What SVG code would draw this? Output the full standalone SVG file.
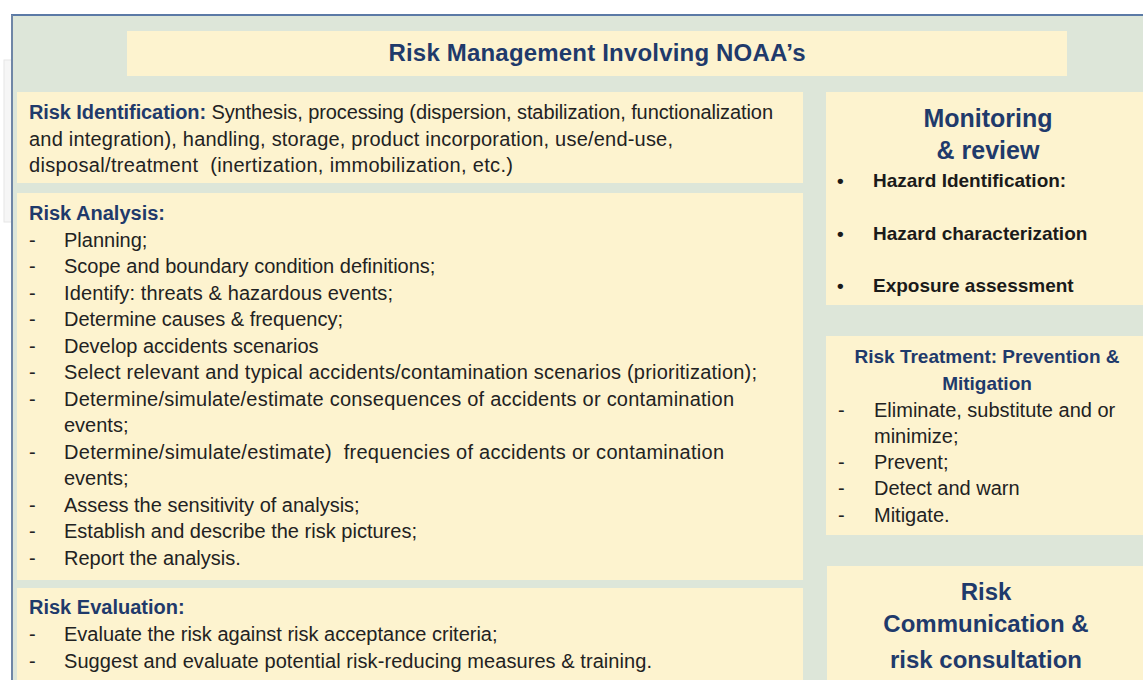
<svg xmlns="http://www.w3.org/2000/svg" width="1143" height="680" viewBox="0 0 1143 680">
  <style>
    .frame { fill: #dde6d9; }
    .box { fill: #fdf3cf; }
    .t { font-family: "Liberation Sans", Arial, sans-serif; font-size: 20px; fill: #222222; }
    .h { font-family: "Liberation Sans", Arial, sans-serif; font-weight: bold; fill: #1f3a6b; }
    .b { font-family: "Liberation Sans", Arial, sans-serif; font-weight: bold; font-size: 19px; fill: #1a1a1a; }
    .ctr { text-anchor: middle; }
  </style>
  <rect x="0" y="0" width="1143" height="680" fill="#ffffff"/>
  <rect x="4" y="60" width="9" height="162" fill="#f6f6f6" stroke="#e6e6e6" stroke-width="1"/>
  <g id="frame">
    <rect class="frame" x="11" y="15" width="1132" height="665"/>
    <line x1="11" y1="15" x2="1143" y2="15" stroke="#5b7aa6" stroke-width="2"/>
    <line x1="12" y1="15" x2="12" y2="680" stroke="#6f86a6" stroke-width="2"/>
  </g>
  <g id="title">
    <rect class="box" x="127" y="31" width="940" height="45"/>
    <text class="h ctr" x="597" y="61" font-size="24" textLength="417">Risk Management Involving NOAA’s</text>
  </g>
  <g id="risk-identification">
    <rect class="box" x="17" y="92" width="786" height="91"/>
    <text class="t" x="29" y="119" textLength="744"><tspan class="h">Risk Identification:</tspan> Synthesis, processing (dispersion, stabilization, functionalization</text>
    <text class="t" x="29" y="145.5" textLength="644">and integration), handling, storage, product incorporation, use/end-use,</text>
    <text class="t" x="29" y="172" xml:space="preserve" textLength="484">disposal/treatment  (inertization, immobilization, etc.)</text>
  </g>
  <g id="risk-analysis">
    <rect class="box" x="17" y="193" width="786" height="387"/>
    <text class="h" x="29" y="220" font-size="20">Risk Analysis:</text>
    <g class="t">
      <text x="29" y="246.5">-</text><text x="64" y="246.5">Planning;</text>
      <text x="29" y="273">-</text><text x="64" y="273">Scope and boundary condition definitions;</text>
      <text x="29" y="299.5">-</text><text x="64" y="299.5" textLength="329">Identify: threats &amp; hazardous events;</text>
      <text x="29" y="326">-</text><text x="64" y="326">Determine causes &amp; frequency;</text>
      <text x="29" y="352.5">-</text><text x="64" y="352.5">Develop accidents scenarios</text>
      <text x="29" y="379">-</text><text x="64" y="379" textLength="693">Select relevant and typical accidents/contamination scenarios (prioritization);</text>
      <text x="29" y="405.5">-</text><text x="64" y="405.5" textLength="670">Determine/simulate/estimate consequences of accidents or contamination</text>
      <text x="64" y="432">events;</text>
      <text x="29" y="458.5">-</text><text x="64" y="458.5" xml:space="preserve" textLength="660">Determine/simulate/estimate)  frequencies of accidents or contamination</text>
      <text x="64" y="485">events;</text>
      <text x="29" y="511.5">-</text><text x="64" y="511.5">Assess the sensitivity of analysis;</text>
      <text x="29" y="538">-</text><text x="64" y="538" textLength="353">Establish and describe the risk pictures;</text>
      <text x="29" y="564.5">-</text><text x="64" y="564.5">Report the analysis.</text>
    </g>
  </g>
  <g id="risk-evaluation">
    <rect class="box" x="17" y="588" width="786" height="92"/>
    <text class="h" x="29" y="614" font-size="20">Risk Evaluation:</text>
    <g class="t">
      <text x="29" y="641">-</text><text x="64" y="641">Evaluate the risk against risk acceptance criteria;</text>
      <text x="29" y="667.5">-</text><text x="64" y="667.5" textLength="588">Suggest and evaluate potential risk-reducing measures &amp; training.</text>
    </g>
  </g>
  <g id="monitoring-review">
    <rect class="box" x="826" y="92" width="317" height="213"/>
    <text class="h ctr" x="988" y="126.5" font-size="25">Monitoring</text>
    <text class="h ctr" x="988" y="158.5" font-size="25">&amp; review</text>
    <g class="b">
      <text x="837" y="186.5">•</text><text x="873" y="186.5">Hazard Identification:</text>
      <text x="837" y="240">•</text><text x="873" y="240">Hazard characterization</text>
      <text x="837" y="292">•</text><text x="873" y="292">Exposure assessment</text>
    </g>
  </g>
  <g id="risk-treatment">
    <rect class="box" x="826" y="336" width="317" height="199"/>
    <text class="h ctr" x="987" y="362.5" font-size="19">Risk Treatment: Prevention &amp;</text>
    <text class="h ctr" x="987" y="390" font-size="19">Mitigation</text>
    <g class="t">
      <text x="838" y="416.5">-</text><text x="874" y="416.5">Eliminate, substitute and or</text>
      <text x="874" y="442.5">minimize;</text>
      <text x="838" y="468.5">-</text><text x="874" y="468.5">Prevent;</text>
      <text x="838" y="495">-</text><text x="874" y="495">Detect and warn</text>
      <text x="838" y="521.5">-</text><text x="874" y="521.5">Mitigate.</text>
    </g>
  </g>
  <g id="risk-communication">
    <rect class="box" x="827" y="566" width="316" height="114"/>
    <text class="h ctr" x="986" y="599.5" font-size="24">Risk</text>
    <text class="h ctr" x="986" y="632" font-size="24">Communication &amp;</text>
    <text class="h ctr" x="986" y="667.5" font-size="24">risk consultation</text>
  </g>
  <g id="connectors"></g>
</svg>
